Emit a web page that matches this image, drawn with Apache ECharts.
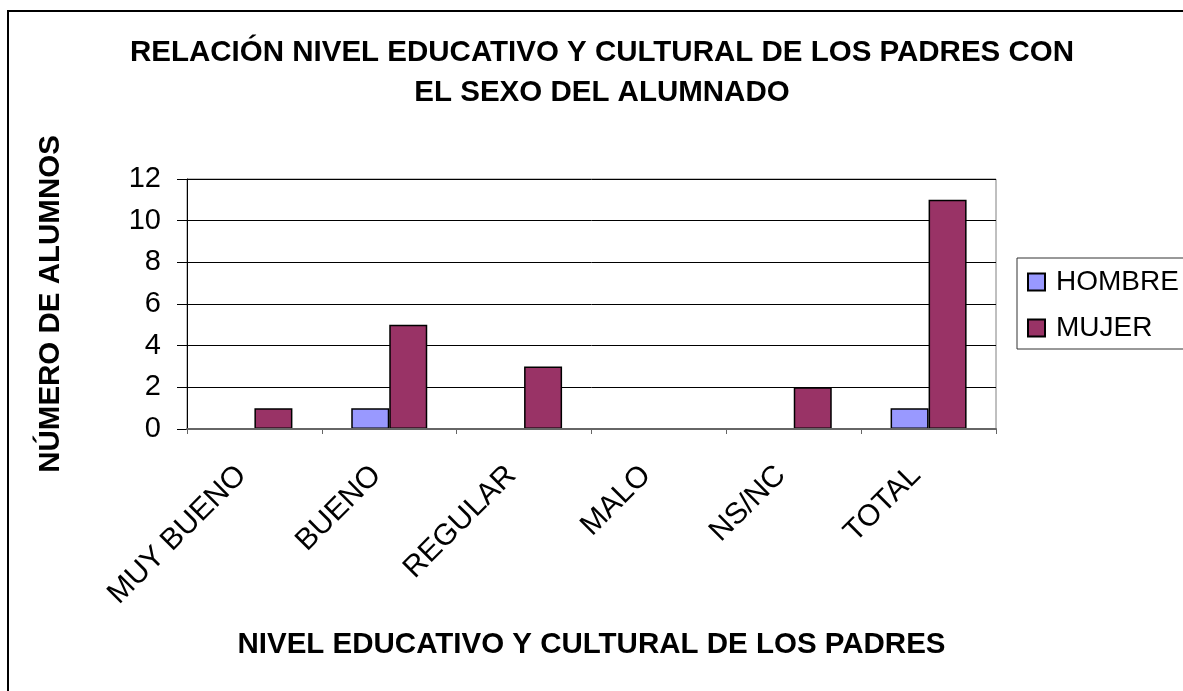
<!DOCTYPE html>
<html>
<head>
<meta charset="utf-8">
<script src="https://cdn.jsdelivr.net/npm/echarts@6/dist/echarts.min.js"></script>
<style>
html,body{margin:0;padding:0;background:#fff;}
#chart{width:1183px;height:691px;}
</style>
</head>
<body>
<div id="chart"></div>
<script>
var categories = ['MUY BUENO', 'BUENO', 'REGULAR', 'MALO', 'NS/NC', 'TOTAL'];
var hombre = [0, 1, 0, 0, 0, 1];
var mujer = [1, 5, 3, 0, 2, 11];
var seriesNames = ['HOMBRE', 'MUJER'];
var yTicks = { min: 0, max: 12, interval: 2 };

var FONT = '"Liberation Sans", Arial, sans-serif';
var chart = echarts.init(document.getElementById('chart'), null, { renderer: 'canvas' });
chart.setOption({
  backgroundColor: '#fff',
  animation: false,
  title: {
    text: 'RELACIÓN NIVEL EDUCATIVO Y CULTURAL DE LOS PADRES CON\nEL SEXO DEL ALUMNADO',
    left: 602,
    top: 33,
    textAlign: 'center',
    padding: 0,
    textStyle: { fontFamily: FONT, fontWeight: 'bold', fontSize: 29.5, lineHeight: 40, color: '#000' }
  },
  graphic: [{
    type: 'rect',
    shape: { x: 8, y: 11, width: 1300, height: 800 },
    style: { fill: 'none', stroke: '#000', lineWidth: 2 },
    silent: true,
    z: 100
  }],
  legend: {
    orient: 'vertical',
    left: 1017,
    top: 258,
    padding: [10, 30, 7, 10],
    itemGap: 18,
    itemWidth: 17,
    itemHeight: 17,
    icon: 'rect',
    borderColor: '#333',
    borderWidth: 1,
    textStyle: { fontFamily: FONT, fontSize: 28, color: '#000', padding: [0, 0, 0, 6] },
    data: seriesNames
  },
  grid: {
    left: 187, right: 187, top: 179, bottom: 262,
    show: true, borderColor: '#808080', borderWidth: 1, backgroundColor: '#fff'
  },
  xAxis: {
    type: 'category',
    data: categories,
    boundaryGap: true,
    z: 5,
    name: 'NIVEL EDUCATIVO Y CULTURAL DE LOS PADRES',
    nameLocation: 'middle',
    nameGap: 201,
    nameTextStyle: { fontFamily: FONT, fontWeight: 'bold', fontSize: 29.5, color: '#000' },
    axisLine: { show: true, lineStyle: { color: '#666', width: 2 } },
    axisTick: { show: true, inside: false, length: 5, alignWithLabel: false, lineStyle: { color: '#666' } },
    axisLabel: { rotate: 45, margin: 29, padding: [0, 18, 0, 0], fontFamily: FONT, fontSize: 30, color: '#000', interval: 0 },
    splitLine: { show: false }
  },
  yAxis: {
    type: 'value',
    min: yTicks.min, max: yTicks.max, interval: yTicks.interval,
    name: 'NÚMERO DE ALUMNOS',
    nameLocation: 'middle',
    nameGap: 121,
    nameTextStyle: { fontFamily: FONT, fontWeight: 'bold', fontSize: 29.5, color: '#000' },
    axisLine: { show: true, lineStyle: { color: '#000', width: 1 } },
    axisTick: { show: true, inside: false, length: 10, lineStyle: { color: '#000' } },
    axisLabel: { margin: 26, fontFamily: FONT, fontSize: 29, color: '#000' },
    splitLine: { show: true, lineStyle: { color: '#000', width: 1 } }
  },
  series: [{
    name: seriesNames[0],
    type: 'bar',
    data: hombre,
    barWidth: 38,
    barGap: '0%',
    itemStyle: { color: '#9999FF', borderColor: '#000', borderWidth: 1.5 }
  }, {
    name: seriesNames[1],
    type: 'bar',
    data: mujer,
    barWidth: 38,
    barGap: '0%',
    itemStyle: { color: '#993366', borderColor: '#000', borderWidth: 1.5 }
  }]
});
</script>
</body>
</html>
